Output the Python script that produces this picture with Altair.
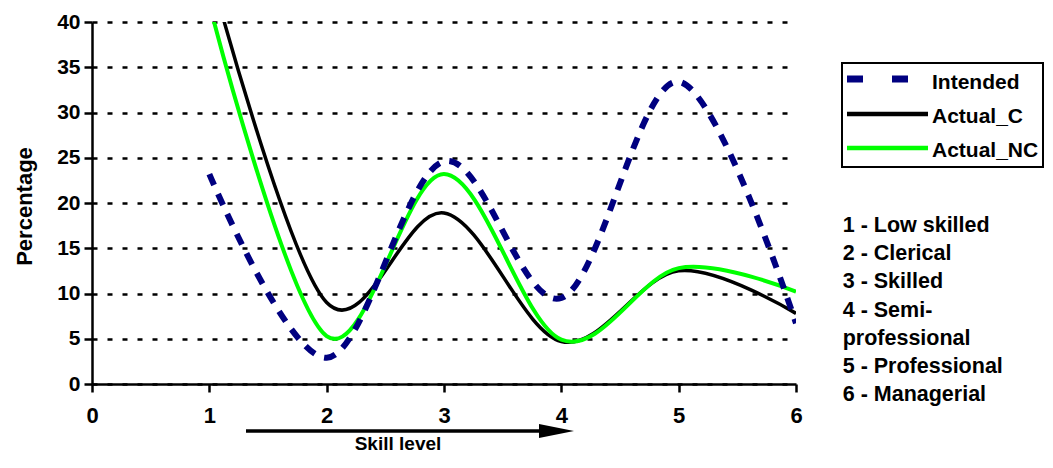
import altair as alt
import pandas as pd

# ---- data ----
skill = [1, 2, 3, 4, 5, 6]
intended = [23.2, 2.9, 24.6, 9.5, 33.4, 6.7]
actual_c = [46.0, 9.0, 18.9, 4.7, 12.5, 7.8]
actual_nc = [42.0, 5.3, 23.2, 4.9, 12.8, 10.2]
series_names = ["Intended", "Actual_C", "Actual_NC"]
series_colors = ["#000080", "#000000", "#00FF00"]
x_ticks = [0, 1, 2, 3, 4, 5, 6]
y_ticks = [0, 5, 10, 15, 20, 25, 30, 35, 40]
skill_labels = ["1 - Low skilled", "2 - Clerical", "3 - Skilled", "4 - Semi-",
                "professional", "5 - Professional", "6 - Managerial"]

rows = []
for name, vals in zip(series_names, [intended, actual_c, actual_nc]):
    for s, v in zip(skill, vals):
        rows.append({"skill": s, "pct": v, "series": name})
df = pd.DataFrame(rows)

FONT = "Liberation Sans"
W, H = 704, 362
one = pd.DataFrame({"k": [0]})

xaxis = alt.Axis(values=x_ticks, title=None, grid=False, format="d",
                 labelFont=FONT, labelFontSize=22, labelFontWeight="bold",
                 labelColor="black", labelPadding=13, labelFlush=False,
                 domainColor="black", domainWidth=2.5,
                 tickColor="black", tickWidth=2.5, tickSize=8)
yaxis = alt.Axis(values=y_ticks, title=None, grid=True, format="d",
                 gridColor="black", gridDash=[5, 10], gridWidth=2.5,
                 labelFont=FONT, labelFontSize=21, labelFontWeight="bold",
                 labelColor="black", labelPadding=4,
                 domainColor="black", domainWidth=2.5,
                 tickColor="black", tickWidth=2.5, tickSize=8)

base = alt.Chart(df).encode(
    x=alt.X("skill:Q", scale=alt.Scale(domain=[0, 6], nice=False, zero=False), axis=xaxis),
    y=alt.Y("pct:Q", scale=alt.Scale(domain=[0, 40], nice=False), axis=yaxis),
)

line_c = base.transform_filter(alt.datum.series == "Actual_C").mark_line(
    interpolate="cardinal", clip=True, color=series_colors[1], strokeWidth=3.5)
line_nc = base.transform_filter(alt.datum.series == "Actual_NC").mark_line(
    interpolate="cardinal", clip=True, color=series_colors[2], strokeWidth=4)
line_i = base.transform_filter(alt.datum.series == "Intended").mark_line(
    interpolate="cardinal", clip=True, color=series_colors[0], strokeWidth=6,
    strokeDash=[12, 10])

layers = [line_c, line_nc, line_i]

# ---- legend box ----
layers.append(alt.Chart(one).mark_rect(fill="white", stroke="black", strokeWidth=2).encode(
    x=alt.value(750), x2=alt.value(951), y=alt.value(41), y2=alt.value(145)))
leg_sym_y = [57, 92, 126]
leg_txt_y = [67, 100.7, 135.3]
leg_width = [7, 4.5, 4.5]
for i, name in enumerate(series_names):
    kw = dict(color=series_colors[i], strokeWidth=leg_width[i])
    if name == "Intended":
        kw["strokeDash"] = [16, 29]
    layers.append(alt.Chart(one).mark_rule(**kw).encode(
        x=alt.value(755), x2=alt.value(836), y=alt.value(leg_sym_y[i])))
    layers.append(alt.Chart(one).mark_text(
        text=name, font=FONT, fontSize=21, fontWeight="bold", color="black",
        align="left", baseline="alphabetic").encode(
        x=alt.value(840), y=alt.value(leg_txt_y[i])))

# ---- skill level key ----
layers.append(alt.Chart(one).mark_text(
    font=FONT, fontSize=21.5, fontWeight="bold", color="black",
    align="left", baseline="alphabetic", lineHeight=28.3).encode(
    x=alt.value(750.7), y=alt.value(209.7), text=alt.value(skill_labels)))

# ---- axis titles and arrow ----
layers.append(alt.Chart(one).mark_text(
    text="Percentage", font=FONT, fontSize=22, fontWeight="bold", color="black",
    align="center", baseline="alphabetic", angle=270).encode(
    x=alt.value(-60), y=alt.value(184.5)))
layers.append(alt.Chart(one).mark_text(
    text="Skill level", font=FONT, fontSize=19, fontWeight="bold", color="black",
    align="center", baseline="alphabetic").encode(
    x=alt.value(306), y=alt.value(428)))
layers.append(alt.Chart(one).mark_rule(color="black", strokeWidth=3.5).encode(
    x=alt.value(154), x2=alt.value(450), y=alt.value(409)))
layers.append(alt.Chart(one).mark_point(
    shape="M-1,-0.4L1,0L-1,0.4Z", size=1225, filled=True, color="black",
    opacity=1, strokeWidth=0).encode(
    x=alt.value(464.5), y=alt.value(409)))

chart = alt.layer(*layers).properties(
    width=W, height=H,
    autosize=alt.AutoSizeParams(type="none"),
    padding={"left": 84, "top": 14, "right": 249, "bottom": 71},
    background="white",
).configure_view(stroke=None)

chart.save("out.html", embed_options={"renderer": "svg", "actions": False})
